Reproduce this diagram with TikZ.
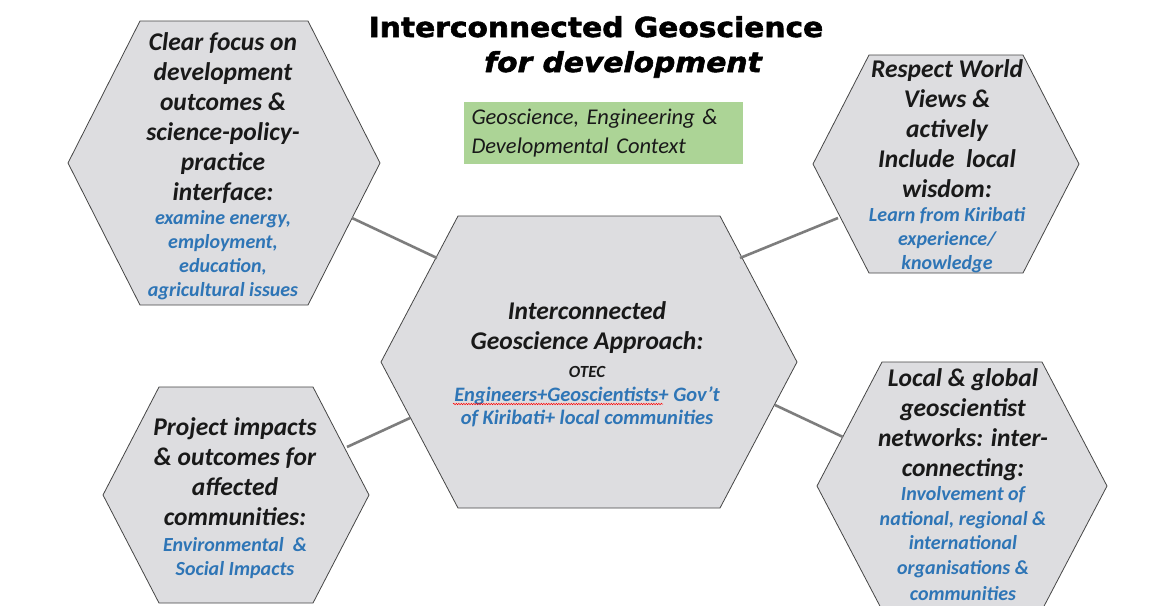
\documentclass[tikz,border=0pt]{standalone}
\usepackage{fontspec}
\setmainfont{Carlito}
\newfontfamily\titlefont[FakeStretch=1.08,FakeBold=2]{DejaVu Sans}
\usetikzlibrary{decorations.pathmorphing}
\definecolor{hexgray}{RGB}{221,221,224}
\definecolor{hexedge}{RGB}{70,70,70}
\definecolor{linkgray}{RGB}{125,125,125}
\definecolor{txtblack}{RGB}{25,25,25}
\definecolor{txtblue}{RGB}{46,117,182}
\definecolor{boxgreen}{RGB}{172,212,150}
\newcommand\hexshape[5]{\draw[hexbox] ({#1-#3},#2) -- ({#1-#5},{#2-#4}) -- ({#1+#5},{#2-#4}) -- ({#1+#3},#2) -- ({#1+#5},{#2+#4}) -- ({#1-#5},{#2+#4}) -- cycle;}
\tikzset{
  hexbox/.style={fill=hexgray, draw=hexedge, line width=0.8pt},
  link/.style={draw=linkgray, line width=2.6pt},
  headtxt/.style={font=\fontsize{25.5}{30}\selectfont\bfseries\itshape, text=txtblack, align=center, inner sep=0pt},
  bluetxt/.style={font=\fontsize{20}{24}\selectfont\bfseries\itshape, text=txtblue, align=center, inner sep=0pt},
}
\begin{document}
\begin{tikzpicture}[x=1pt,y=-1pt]
\useasboundingbox (0,0) rectangle (1164,605);
\fill[white] (0,0) rectangle (1164,605);

% hexagons
\hexshape{224}{163}{156}{142}{84}
\hexshape{946}{164}{133}{109}{77}
\hexshape{589}{362}{208}{146}{131}
\hexshape{236}{495}{133}{108}{77}
\hexshape{962}{486}{145}{124}{80}

% connector end points
\coordinate (h1e) at (352,218);
\coordinate (c1e) at (437,258);
\coordinate (c2e) at (740,258);
\coordinate (h2e) at (838,218);
\coordinate (c3e) at (410,418);
\coordinate (h4e) at (347,447);
\coordinate (c4e) at (775,405);
\coordinate (h5e) at (843,437);
\draw[link] (h1e) -- (c1e);
\draw[link] (c2e) -- (h2e);
\draw[link] (c3e) -- (h4e);
\draw[link] (c4e) -- (h5e);

% title
\node[font=\titlefont\fontsize{27.5}{33}\selectfont\bfseries, anchor=base, inner sep=0pt] (t1) at (596,37) {Interconnected Geoscience};
\node[font=\titlefont\fontsize{27.5}{33}\selectfont\bfseries\itshape, anchor=base, inner sep=0pt] (t2) at (623,72) {for development};

% green box
\node[fill=boxgreen, minimum width=279pt, minimum height=62pt, text width=264pt, align=left, inner sep=0pt,
      font=\fontsize{22.5}{29}\selectfont\itshape, text=txtblack] (ctx) at (603.5,133)
  {Geoscience, Engineering \&\\Developmental Context};

% hex 1
\node[headtxt] (h1a) at (223,118) {Clear focus on\\development\\outcomes \&\\science-policy-\\practice\\interface:};
\node[bluetxt] (h1b) at (223,255) {examine energy,\\employment,\\education,\\agricultural issues};

% hex 2
\node[headtxt] (h2a) at (947,129) {Respect World\\Views \&\\actively\\Include\ \ local\\wisdom:};
\node[bluetxt] (h2b) at (947,240) {Learn from Kiribati\\experience/\\knowledge};

% centre
\node[headtxt] (ca) at (587,328) {Interconnected\\Geoscience Approach:};
\node[font=\fontsize{17}{20}\selectfont\bfseries\itshape, text=txtblack, inner sep=0pt] (cb) at (587,372) {OTEC};
\node[bluetxt, font=\fontsize{20.5}{23}\selectfont\bfseries\itshape] (cc) at (587,406.5) {Engineers+Geoscientists+ Gov’t\\of Kiribati+ local communities};
\draw[red, line width=0.5pt, decorate, decoration={snake, amplitude=0.7pt, segment length=2.5pt}] (453,404) -- (663,404);

% hex 4
\node[headtxt] (h4a) at (235,472) {Project impacts\\\& outcomes for\\affected\\communities:};
\node[bluetxt] (h4b) at (235,558.5) {Environmental\ \ \&\\Social Impacts};

% hex 5
\node[headtxt] (h5a) at (963,425) {Local \& global\\geoscientist\\networks: inter-\\connecting:};
\node[bluetxt, font=\fontsize{20}{24.5}\selectfont\bfseries\itshape] (h5b) at (963,544) {Involvement of\\national, regional \&\\international\\organisations \&\\[2pt]communities};
\end{tikzpicture}
\end{document}
